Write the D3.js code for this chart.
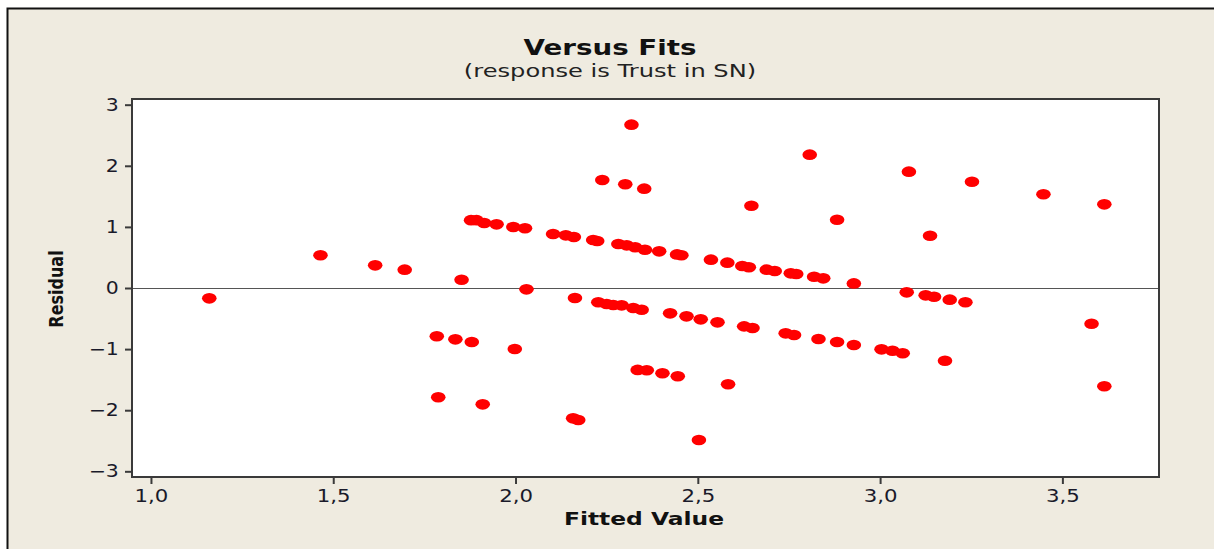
<!DOCTYPE html>
<html>
<head>
<meta charset="utf-8">
<script src="https://cdn.jsdelivr.net/npm/d3@7"></script>
<style>
  html, body { margin: 0; padding: 0; background: #ffffff; }
  svg { display: block; }
</style>
</head>
<body>
<svg id="chart" width="1214" height="549"></svg>
<script>
// Residuals against fitted values for the Trust in SN model
const fittedValues = [
  1.160, 1.465, 1.615, 1.696, 1.852, 1.878, 1.893, 1.914, 1.948, 1.994,
  2.026, 2.103, 2.138, 2.160, 2.213, 2.224, 2.282, 2.305, 2.328, 2.355,
  2.394, 2.443, 2.455, 2.536, 2.581, 2.622, 2.640, 2.689, 2.711, 2.755,
  2.770, 2.819, 2.844, 2.928, 2.318, 2.238, 2.301, 2.353, 2.807, 2.647,
  2.882, 3.079, 3.252, 3.448, 3.615, 3.137, 2.030, 2.163, 2.227, 2.250,
  2.268, 2.291, 2.323, 2.346, 2.424, 2.469, 2.508, 2.554, 2.627, 2.650,
  2.741, 2.764, 2.831, 2.882, 2.928, 3.004, 3.034, 3.062, 3.073, 3.125,
  3.148, 3.191, 3.234, 3.178, 3.580, 3.615, 1.784, 1.835, 1.880, 1.998,
  1.788, 1.910, 2.335, 2.360, 2.403, 2.445, 2.583, 2.158, 2.172, 2.503
];
const residuals = [
  -0.169, 0.535, 0.371, 0.300, 0.136, 1.110, 1.110, 1.064, 1.042, 0.998,
  0.977, 0.884, 0.862, 0.835, 0.785, 0.770, 0.720, 0.698, 0.666, 0.627,
  0.600, 0.550, 0.535, 0.464, 0.415, 0.360, 0.340, 0.300, 0.278, 0.240,
  0.230, 0.185, 0.158, 0.075, 2.673, 1.768, 1.697, 1.626, 2.182, 1.347,
  1.118, 1.904, 1.740, 1.533, 1.369, 0.856, -0.022, -0.164, -0.234, -0.262,
  -0.278, -0.284, -0.327, -0.355, -0.415, -0.464, -0.513, -0.562, -0.628, -0.655,
  -0.742, -0.769, -0.835, -0.884, -0.933, -1.004, -1.026, -1.069, -0.071, -0.120,
  -0.142, -0.191, -0.234, -1.190, -0.584, -1.609, -0.790, -0.840, -0.884, -0.998,
  -1.789, -1.904, -1.340, -1.345, -1.396, -1.445, -1.576, -2.133, -2.160, -2.488
];
const xTicks = [1.0, 1.5, 2.0, 2.5, 3.0, 3.5];
const yTicks = [-3, -2, -1, 0, 1, 2, 3];

const titleText = "Versus Fits";
const subtitleText = "(response is Trust in SN)";
const xLabel = "Fitted Value";
const yLabel = "Residual";

const W = 1214, H = 549;
const plot = { left: 132, top: 99, right: 1159, bottom: 477 };
const bg = "#efebe0";
const axisColor = "#3a3a3a";
const font = "Verdana, 'DejaVu Sans', sans-serif";
const commaFormat = d3.formatLocale({ decimal: ",", thousands: ".", grouping: [3], currency: ["", ""] }).format(".1f");

const svg = d3.select("#chart");

// Outer panel with a dark frame along its top and left edges
svg.append("rect").attr("x", 0).attr("y", 0).attr("width", W).attr("height", H).attr("fill", "#ffffff");
svg.append("rect").attr("x", 7).attr("y", 8).attr("width", W - 7).attr("height", H - 8).attr("fill", bg);
svg.append("path")
  .attr("d", `M7.5,${H} L7.5,8.5 L${W},8.5`)
  .attr("fill", "none").attr("stroke", "#111").attr("stroke-width", 2);

const x = d3.scaleLinear().domain([0.948, 3.765]).range([plot.left, plot.right]);
const y = d3.scaleLinear().domain([-3.093, 3.093]).range([plot.bottom, plot.top]);

// Data region
svg.append("rect")
  .attr("x", plot.left).attr("y", plot.top)
  .attr("width", plot.right - plot.left).attr("height", plot.bottom - plot.top)
  .attr("fill", "#ffffff");

// Zero reference line
svg.append("line")
  .attr("x1", plot.left).attr("x2", plot.right)
  .attr("y1", Math.round(y(0)) + 0.5).attr("y2", Math.round(y(0)) + 0.5)
  .attr("stroke", "#555").attr("stroke-width", 1);

// Points
svg.append("g").selectAll("ellipse")
  .data(fittedValues.map((f, i) => [f, residuals[i]]))
  .join("ellipse")
  .attr("cx", d => x(d[0]))
  .attr("cy", d => y(d[1]))
  .attr("rx", 7.3).attr("ry", 5.3)
  .attr("fill", "#ff0000");

// Plot border
svg.append("rect")
  .attr("x", plot.left).attr("y", plot.top)
  .attr("width", plot.right - plot.left).attr("height", plot.bottom - plot.top)
  .attr("fill", "none").attr("stroke", axisColor).attr("stroke-width", 2);

// Axes (labels are drawn horizontally widened)
const xAxis = d3.axisBottom(x).tickValues(xTicks).tickFormat(commaFormat).tickSize(7).tickPadding(6);
const yAxis = d3.axisLeft(y).tickValues(yTicks).tickFormat(d3.format("d")).tickSize(7).tickPadding(6);

const gx = svg.append("g").attr("transform", `translate(0,${plot.bottom})`).call(xAxis);
const gy = svg.append("g").attr("transform", `translate(${plot.left},0)`).call(yAxis);
[gx, gy].forEach(g => {
  g.select(".domain").remove();
  g.selectAll(".tick line").attr("stroke", axisColor).attr("stroke-width", 2);
  g.selectAll(".tick text")
    .attr("fill", "#1a1a2a")
    .style("font-family", font)
    .style("font-size", "17px");
});
gx.selectAll(".tick text").attr("transform", "scale(1.25,1)");
gy.selectAll(".tick text")
  .attr("x", -11)
  .attr("transform", "scale(1.2,1)");

// Titles
function wideText(tx, ty, sx, size, weight, str, fill) {
  svg.append("text")
    .attr("transform", `translate(${tx},${ty}) scale(${sx},1)`)
    .attr("text-anchor", "middle")
    .style("font-family", font).style("font-weight", weight).style("font-size", size + "px")
    .attr("fill", fill)
    .text(str);
}
wideText(610, 55, 1.32, 21, "bold", titleText, "#111");
wideText(610, 77, 1.38, 17.5, "normal", subtitleText, "#222");
wideText(644, 525, 1.3, 18, "bold", xLabel, "#111");

svg.append("text")
  .attr("transform", "translate(63,289) scale(1.25,1) rotate(-90)")
  .attr("text-anchor", "middle")
  .style("font-family", font).style("font-weight", "bold").style("font-size", "16px")
  .attr("fill", "#111")
  .text(yLabel);
</script>
</body>
</html>
